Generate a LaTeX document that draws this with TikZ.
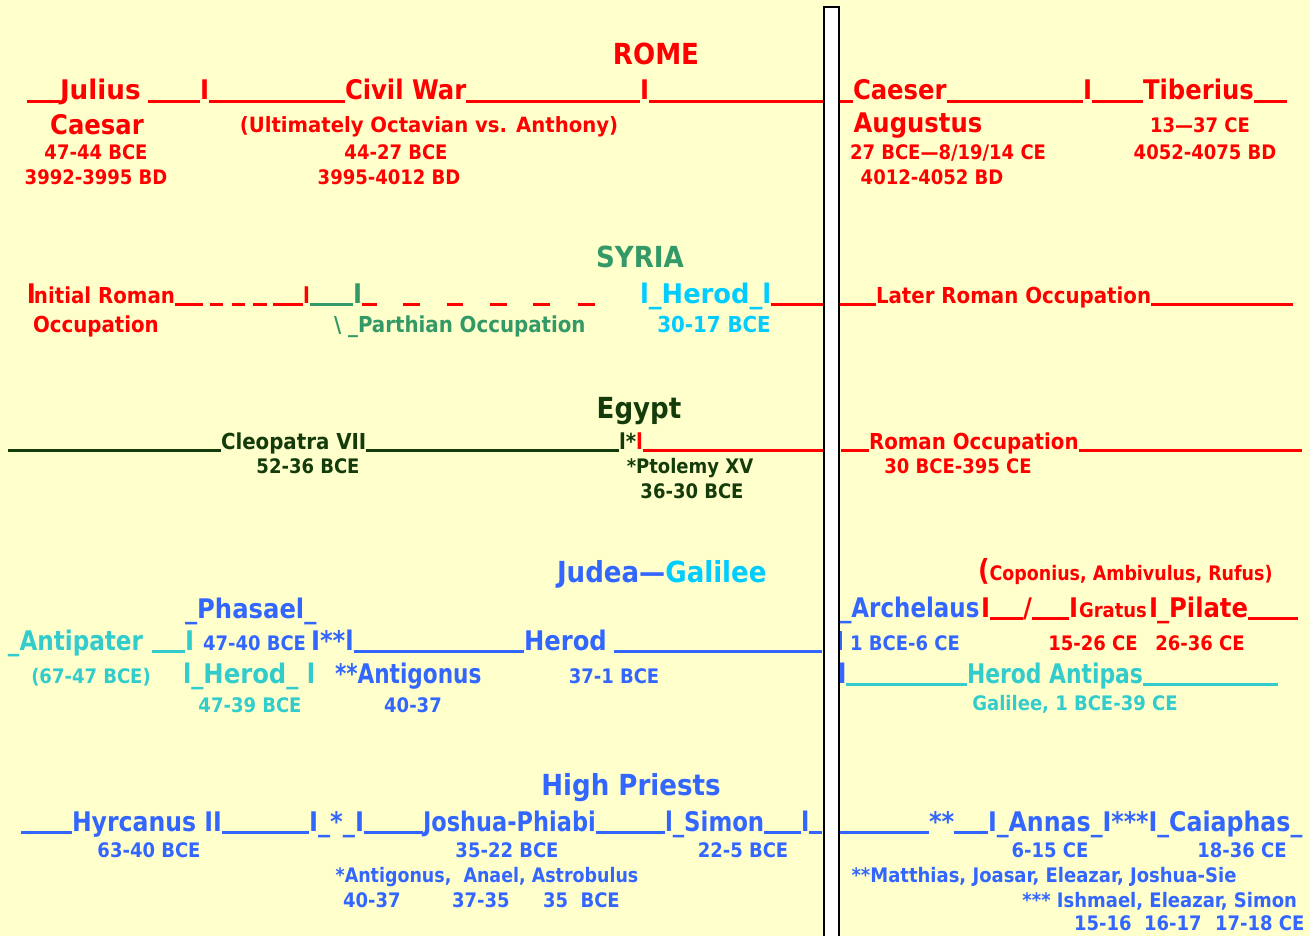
\documentclass[tikz,border=0pt]{standalone}
\usepackage{fontspec}
\newfontfamily\tf{DejaVu Sans Condensed Bold}
\definecolor{bg}{HTML}{FFFFCC}
\definecolor{rd}{HTML}{FF0000}
\definecolor{sg}{HTML}{339966}
\definecolor{dg}{HTML}{143C0A}
\definecolor{cy}{HTML}{00CCFF}
\definecolor{bl}{HTML}{3366FF}
\definecolor{tq}{HTML}{33CCCC}
\tikzset{
 tx/.style={anchor=base west, inner sep=0pt, outer sep=0pt},
 tc/.style={anchor=base, inner sep=0pt, outer sep=0pt},
 te/.style={anchor=base east, inner sep=0pt, outer sep=0pt},
 fT/.style={font=\tf\fontsize{29}{32}\selectfont},
 fA/.style={font=\tf\fontsize{27}{30}\selectfont},
 fB/.style={font=\tf\fontsize{22}{25}\selectfont},
 fD/.style={font=\tf\fontsize{21}{24}\selectfont},
 fC/.style={font=\tf\fontsize{20}{22}\selectfont},
 us/.style={line width=3pt},
}
\newcommand\usline[3]{\draw[us,#1] ([yshift=-1.8pt]#2) -- ([yshift=-1.8pt]#3);}
\newcommand\sqz[2]{\scalebox{#1}[1]{#2}}
\begin{document}
\begin{tikzpicture}[x=1pt,y=-1pt]
\fill[bg] (0,0) rectangle (1310,936);
\useasboundingbox (0,0) rectangle (1310,936);

% ===== ROME =====
\node[tc,fT,text=rd] (rome) at (656,65) {ROME};
\coordinate (r1a) at (27,100);
\node[tx,fA,text=rd] (julius) at (60,100) {\sqz{1.08}{Julius}};
\coordinate (r1b) at (148,100);
\node[tx,fA,text=rd] (rsep1) at (200,100) {I};
\node[tx,fA,text=rd] (civil) at (345,100) {Civil War};
\node[tx,fA,text=rd] (rsep2) at (640,100) {I};
\coordinate (r1c) at (823,100);
\usline{rd}{r1a}{julius.base west}
\usline{rd}{r1b}{rsep1.base west}
\usline{rd}{rsep1.base east}{civil.base west}
\usline{rd}{civil.base east}{rsep2.base west}
\usline{rd}{rsep2.base east}{r1c}
\coordinate (r1d) at (840,100);
\node[tx,fA,text=rd] (caeser) at (853,100) {Caeser};
\node[tx,fA,text=rd] (rsep3) at (1083,100) {I};
\node[tx,fA,text=rd] (tiber) at (1143,100) {Tiberius};
\coordinate (r1e) at (1287,100);
\usline{rd}{r1d}{caeser.base west}
\usline{rd}{caeser.base east}{rsep3.base west}
\usline{rd}{rsep3.base east}{tiber.base west}
\usline{rd}{tiber.base east}{r1e}
\node[tc,fA,text=rd] (caesar) at (97,135) {Caesar};
\node[tc,fD,text=rd] (ult) at (429,133) {\sqz{1.04}{(Ultimately Octavian vs. Anthony)}};
\node[tc,fC,text=rd] (d1) at (96,160) {47-44 BCE};
\node[tc,fC,text=rd] (d2) at (396,160) {44-27 BCE};
\node[tc,fC,text=rd] (d3) at (96,185) {3992-3995 BD};
\node[tc,fC,text=rd] (d4) at (389,185) {3995-4012 BD};
\node[tc,fA,text=rd] (aug) at (918,133) {Augustus};
\node[tc,fC,text=rd] (d5) at (1200,133) {13—37 CE};
\node[tc,fC,text=rd] (d6) at (948,160) {27 BCE—8/19/14 CE};
\node[tc,fC,text=rd] (d7) at (1205,160) {4052-4075 BD};
\node[tc,fC,text=rd] (d8) at (932,185) {4012-4052 BD};

% ===== SYRIA =====
\node[tc,fT,text=sg] (syria) at (640,268) {SYRIA};
\node[tx,fA,text=rd] (initI) at (27,303) {I};
\node[tx,fB,text=rd] (initial) at (34,303) {nitial Roman};
\coordinate (s1) at (203,303);
\usline{rd}{initial.base east}{s1}
\coordinate (sd1a) at (210,303); \coordinate (sd1b) at (223,303);
\coordinate (sd2a) at (232,303); \coordinate (sd2b) at (245,303);
\coordinate (sd3a) at (253,303); \coordinate (sd3b) at (267,303);
\coordinate (sd4a) at (273,303);
\usline{rd}{sd1a}{sd1b}
\usline{rd}{sd2a}{sd2b}
\usline{rd}{sd3a}{sd3b}
\node[tx,fB,text=rd] (sl1) at (303,303) {l};
\usline{rd}{sd4a}{sl1.base west}
\node[tx,fA,text=sg] (sI) at (353,303) {I};
\usline{sg}{sl1.base east}{sI.base west}
\coordinate (sd5b) at (377,303);
\usline{rd}{sI.base east}{sd5b}
\coordinate (sd6a) at (403,303); \coordinate (sd6b) at (420,303);
\coordinate (sd7a) at (447,303); \coordinate (sd7b) at (463,303);
\coordinate (sd8a) at (490,303); \coordinate (sd8b) at (507,303);
\coordinate (sd9a) at (533,303); \coordinate (sd9b) at (550,303);
\coordinate (sdAa) at (578,303); \coordinate (sdAb) at (595,303);
\usline{rd}{sd6a}{sd6b}
\usline{rd}{sd7a}{sd7b}
\usline{rd}{sd8a}{sd8b}
\usline{rd}{sd9a}{sd9b}
\usline{rd}{sdAa}{sdAb}
\node[tx,fA,text=cy] (sherod) at (640,303) {\sqz{1.06}{l\_Herod\_l}};
\coordinate (s2) at (823,303);
\usline{rd}{sherod.base east}{s2}
\coordinate (s3) at (840,303);
\node[tx,fB,text=rd] (later) at (876,303) {Later Roman Occupation};
\coordinate (s4) at (1293,303);
\usline{rd}{s3}{later.base west}
\usline{rd}{later.base east}{s4}
\node[tx,fB,text=rd] (occ) at (33,332) {Occupation};
\node[tx,fB,text=sg] (parth) at (334,332) {\textbackslash\ \_Parthian Occupation};
\node[tc,fB,text=cy] (s1730) at (714,332) {30-17 BCE};

% ===== EGYPT =====
\node[tc,fT,text=dg] (egypt) at (639,418) {Egypt};
\coordinate (e1) at (8,449);
\node[tx,fB,text=dg] (cleo) at (221,449) {Cleopatra VII};
\node[tx,fB,text=dg] (esep) at (619,449) {l*};
\node[tx,fB,text=rd] (esep2) at (esep.base east) {l};
\coordinate (e2) at (823,449);
\usline{dg}{e1}{cleo.base west}
\usline{dg}{cleo.base east}{esep.base west}
\usline{rd}{esep2.base east}{e2}
\coordinate (e3) at (841,449);
\node[tx,fB,text=rd] (roman) at (869,449) {Roman Occupation};
\coordinate (e4) at (1302,449);
\usline{rd}{e3}{roman.base west}
\usline{rd}{roman.base east}{e4}
\node[tc,fC,text=dg] (e5236) at (308,473) {52-36 BCE};
\node[tc,fC,text=dg] (ptol) at (690,473) {*Ptolemy XV};
\node[tc,fC,text=dg] (e3630) at (692,498) {36-30 BCE};
\node[tc,fC,text=rd] (e30) at (958,473) {30 BCE-395 CE};

% ===== JUDEA =====
\node[tx,fT] (judea) at (557,582) {\textcolor{bl}{Judea—}\textcolor{cy}{Galilee}};
\node[tx,fC,text=rd] (copon) at (978,580) {\sqz{0.97}{{\fontsize{29}{30}\selectfont(}Coponius, Ambivulus, Rufus)}};
\node[tx,fA,text=bl] (phasael) at (185,618) {\_Phasael\_};
\node[tx,fA,text=tq] (antip) at (8,650) {\sqz{0.95}{\_Antipater}};
\coordinate (j1) at (152,650);
\node[tx,fA,text=tq] (jI1) at (185,650) {I};
\usline{tq}{j1}{jI1.base west}
\node[tx,fC,text=bl] (j4740) at (203,650) {47-40 BCE};
\node[tx,fA,text=bl] (jI2) at (311,650) {I**l};
\node[tx,fA,text=bl] (herod) at (524,650) {Herod};
\coordinate (j2) at (614,650);
\coordinate (j3) at (822,650);
\usline{bl}{jI2.base east}{herod.base west}
\usline{bl}{j2}{j3}
\node[tx,fA,text=bl] (arch) at (840,617) {\sqz{0.945}{\_Archelaus}};
\node[tx,fA,text=rd] (jr1) at (981,617) {I};
\node[tx,fA,text=rd] (jslash) at (1023,617) {/};
\node[tx,fA,text=rd] (jr2) at (1069,617) {I};
\node[tx,fC,text=rd] (gratus) at (1079,617) {Gratus};
\node[tx,fA,text=rd] (jr3) at (1149,617) {I};
\node[tx,fA,text=rd] (pilate) at (1157,617) {\_Pilate};
\coordinate (j4) at (1298,617);
\usline{rd}{jr1.base east}{jslash.base west}
\usline{rd}{jslash.base east}{jr2.base west}
\usline{rd}{pilate.base east}{j4}
\draw[bl,line width=2pt] (841,631) -- (841,650);
\node[tc,fC,text=bl] (j16) at (905,650) {1 BCE-6 CE};
\node[tc,fC,text=rd] (j1526) at (1093,650) {15-26 CE};
\node[tc,fC,text=rd] (j2636) at (1200,650) {26-36 CE};
\node[tc,fC,text=tq] (j6747) at (91,683) {(67-47 BCE)};
\node[tx,fA,text=tq] (herod2) at (183,683) {l\_Herod\_ l};
\node[tx,fA,text=bl] (antig) at (335,683) {\sqz{0.89}{**Antigonus}};
\node[tc,fC,text=bl] (j371) at (614,683) {37-1 BCE};
\node[tx,fA,text=bl] (jl) at (838,683) {l};
\node[tx,fA,text=tq] (antipas) at (967,683) {\sqz{0.9}{Herod Antipas}};
\coordinate (j5) at (1278,683);
\usline{tq}{jl.base east}{antipas.base west}
\usline{tq}{antipas.base east}{j5}
\node[tc,fC,text=tq] (j4739) at (250,712) {47-39 BCE};
\node[tc,fC,text=bl] (j4037) at (413,712) {40-37};
\node[tc,fC,text=tq] (jgal) at (1075,710) {Galilee, 1 BCE-39 CE};

% ===== HIGH PRIESTS =====
\node[tc,fT,text=bl] (hp) at (631,795) {High Priests};
\coordinate (h1) at (21,831);
\node[tx,fA,text=bl] (hyr) at (72,831) {\sqz{0.97}{Hyrcanus II}};
\node[tx,fA,text=bl] (hI) at (309,831) {I\_*\_I};
\node[tx,fA,text=bl] (josh) at (423,831) {\sqz{0.925}{Joshua-Phiabi}};
\node[tx,fA,text=bl] (simon) at (665,831) {\sqz{0.94}{l\_Simon}};
\node[tx,fA,text=bl] (hl) at (801,831) {l};
\coordinate (h2) at (822,831);
\usline{bl}{h1}{hyr.base west}
\usline{bl}{hyr.base east}{hI.base west}
\usline{bl}{hI.base east}{josh.base west}
\usline{bl}{josh.base east}{simon.base west}
\usline{bl}{simon.base east}{hl.base west}
\usline{bl}{hl.base east}{h2}
\coordinate (h3) at (839,831);
\node[tx,fA,text=bl] (hs) at (929,831) {**};
\node[tx,fA,text=bl] (annas) at (988,831) {\sqz{0.975}{I\_Annas\_I***I\_Caiaphas\_}};
\usline{bl}{h3}{hs.base west}
\usline{bl}{hs.base east}{annas.base west}
\node[tc,fC,text=bl] (h6340) at (149,857) {63-40 BCE};
\node[tc,fC,text=bl] (h3522) at (507,857) {35-22 BCE};
\node[tc,fC,text=bl] (h225) at (743,857) {22-5 BCE};
\node[tc,fC,text=bl] (h615) at (1050,857) {6-15 CE};
\node[tc,fC,text=bl] (h1836) at (1242,857) {18-36 CE};
\node[tc,fC,text=bl] (hant) at (487,882) {\sqz{0.97}{*Antigonus,\ \ Anael, Astrobulus}};
\node[tx,fC,text=bl] (hd1) at (343,907) {40-37};
\node[tx,fC,text=bl] (hd2) at (452,907) {37-35};
\node[tx,fC,text=bl] (hd3) at (543,907) {35\ \ BCE};
\node[tc,fC,text=bl] (hmat) at (1044,882) {**Matthias, Joasar, Eleazar, Joshua-Sie};
\node[te,fC,text=bl] (hish) at (1297,907) {*** Ishmael, Eleazar, Simon};
\node[tx,fC,text=bl] (hd4) at (1074,930) {15-16};
\node[tx,fC,text=bl] (hd5) at (1144,930) {16-17};
\node[tx,fC,text=bl] (hd6) at (1215,930) {17-18 CE};

% ===== divider =====
\fill[white] (824,7) rectangle (839,940);
\draw[black,line width=2pt] (824,940) -- (824,7) -- (839,7) -- (839,940);
\end{tikzpicture}
\end{document}
